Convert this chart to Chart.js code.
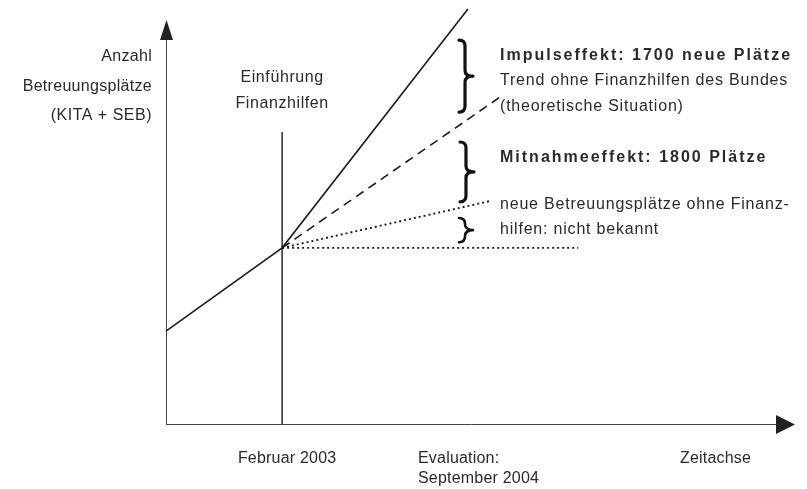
<!DOCTYPE html>
<html>
<head>
<meta charset="utf-8">
<script src="https://cdn.jsdelivr.net/npm/chart.js@4/dist/chart.umd.min.js"></script>
<style>
  html, body { margin: 0; padding: 0; background: #fff; }
  #wrap { width: 807px; height: 489px; }
</style>
</head>
<body>
<div id="wrap"><canvas id="schema" width="807" height="489"></canvas></div>
<script>
// Zeitachse in Monaten ab Februar 2002, Plätze als Index (0 = Achse)
const einfuehrungMonat = 12;      // Februar 2003
const evaluationMonat = 31;       // September 2004

const mitHilfenX = [0, 12, 31.2];
const mitHilfenY = [23, 43.6, 102.7];
const trendOhneX = [12, 34.5];
const trendOhneY = [43.6, 80.9];
const ohneFinanzX = [12, 33.5];
const ohneFinanzY = [43.6, 55.2];
const konstantX = [12, 42.6];
const konstantY = [43.6, 43.6];
const einfuehrungY = [0, 72.3];

// geschweifte Klammern: Monat, oberes und unteres Ende
const klammerX = [30.9, 31.0, 30.9];
const klammerOben = [95, 69.8, 51];
const klammerUnten = [77.2, 55, 45];

function punkte(xs, ys) {
    return xs.map((x, i) => ({ x: x, y: ys[i] }));
}

const farbe = '#1c1c1c';
const textFarbe = '#2a2a2a';

// Achsen mit Pfeilen zeichnen
const achsenPlugin = {
    id: 'achsen',
    beforeDatasetsDraw(chart) {
        const ctx = chart.ctx;
        const a = chart.chartArea;
        ctx.save();
        ctx.strokeStyle = '#444';
        ctx.fillStyle = '#222';
        ctx.lineWidth = 1;
        ctx.beginPath();
        ctx.moveTo(a.left + 0.5, a.bottom);
        ctx.lineTo(a.left + 0.5, a.top + 18);
        ctx.moveTo(a.left, a.bottom + 0.5);
        ctx.lineTo(a.right - 18, a.bottom + 0.5);
        ctx.stroke();
        // Pfeil oben
        ctx.beginPath();
        ctx.moveTo(a.left + 0.5, a.top);
        ctx.lineTo(a.left + 7, a.top + 20);
        ctx.lineTo(a.left - 6, a.top + 20);
        ctx.closePath();
        ctx.fill();
        // Pfeil rechts
        ctx.beginPath();
        ctx.moveTo(a.right, a.bottom + 0.5);
        ctx.lineTo(a.right - 19, a.bottom - 9);
        ctx.lineTo(a.right - 19, a.bottom + 10);
        ctx.closePath();
        ctx.fill();
        ctx.restore();
    }
};

// Klammern und Beschriftungen
const textPlugin = {
    id: 'texte',
    afterDatasetsDraw(chart) {
        const ctx = chart.ctx;
        const xs = chart.scales.x;
        const ys = chart.scales.y;
        ctx.save();
        ctx.strokeStyle = '#111';
        ctx.lineCap = 'round';
        ctx.lineJoin = 'round';
        klammerX.forEach((kx, i) => {
            const xc = xs.getPixelForValue(kx);
            const t = ys.getPixelForValue(klammerOben[i]);
            const b = ys.getPixelForValue(klammerUnten[i]);
            const m = (t + b) / 2;
            const h = Math.min(6, (b - t) / 4);
            ctx.lineWidth = (b - t) > 40 ? 3.2 : 2.6;
            ctx.beginPath();
            ctx.moveTo(xc - 6, t);
            ctx.quadraticCurveTo(xc, t, xc, t + h);
            ctx.lineTo(xc, m - h);
            ctx.quadraticCurveTo(xc, m, xc + 8, m);
            ctx.quadraticCurveTo(xc, m, xc, m + h);
            ctx.lineTo(xc, b - h);
            ctx.quadraticCurveTo(xc, b, xc - 6, b);
            ctx.stroke();
        });

        ctx.fillStyle = textFarbe;
        ctx.textBaseline = 'middle';
        const normal = '16px "Liberation Sans", Arial, sans-serif';
        const fett = 'bold 16px "Liberation Sans", Arial, sans-serif';
        function text(s, x, y, align, font, ls) {
            ctx.font = font;
            ctx.letterSpacing = ls;
            ctx.textAlign = align;
            ctx.fillText(s, x, y);
        }
        text('Anzahl', 152, 57, 'right', normal, '0.3px');
        text('Betreuungsplätze', 152, 87, 'right', normal, '0.3px');
        text('(KITA + SEB)', 152, 116, 'right', normal, '0.5px');

        const xe = xs.getPixelForValue(einfuehrungMonat);
        text('Einführung', xe, 78, 'center', normal, '0.6px');
        text('Finanzhilfen', xe, 104, 'center', normal, '0.6px');

        text('Impulseffekt: 1700 neue Plätze', 500, 56, 'left', fett, '2.0px');
        text('Trend ohne Finanzhilfen des Bundes', 500, 81, 'left', normal, '0.8px');
        text('(theoretische Situation)', 500, 107, 'left', normal, '0.8px');
        text('Mitnahmeeffekt: 1800 Plätze', 500, 158, 'left', fett, '2.0px');
        text('neue Betreuungsplätze ohne Finanz-', 500, 205, 'left', normal, '0.8px');
        text('hilfen: nicht bekannt', 500, 230, 'left', normal, '0.8px');

        text('Februar 2003', xe + 5, 459, 'center', normal, '0.2px');
        text('Evaluation:', 418, 459, 'left', normal, '0.2px');
        text('September 2004', 418, 479, 'left', normal, '0.2px');
        text('Zeitachse', 680, 459, 'left', normal, '0.2px');
        ctx.restore();
    }
};

function linie(daten, dash, breite) {
    return {
        data: daten,
        showLine: true,
        borderColor: farbe,
        borderWidth: breite,
        borderDash: dash,
        pointRadius: 0,
        fill: false,
        clip: false,
        tension: 0
    };
}

const ctx = document.getElementById('schema').getContext('2d');
new Chart(ctx, {
    type: 'scatter',
    data: {
        datasets: [
            linie(punkte(mitHilfenX, mitHilfenY), [], 1.6),
            linie(punkte(trendOhneX, trendOhneY), [9, 6], 1.6),
            linie(punkte(ohneFinanzX, ohneFinanzY), [2, 3], 1.9),
            linie(punkte(konstantX, konstantY), [2, 3], 1.9),
            linie(punkte([einfuehrungMonat, einfuehrungMonat], einfuehrungY), [], 1.4)
        ]
    },
    options: {
        responsive: false,
        animation: false,
        devicePixelRatio: 1,
        layout: { padding: { left: 166, right: 12, top: 20, bottom: 65 } },
        scales: {
            x: { type: 'linear', display: false, min: 0, max: 65 },
            y: { type: 'linear', display: false, min: 0, max: 100 }
        },
        plugins: {
            legend: { display: false },
            tooltip: { enabled: false }
        }
    },
    plugins: [achsenPlugin, textPlugin]
});
</script>
</body>
</html>
